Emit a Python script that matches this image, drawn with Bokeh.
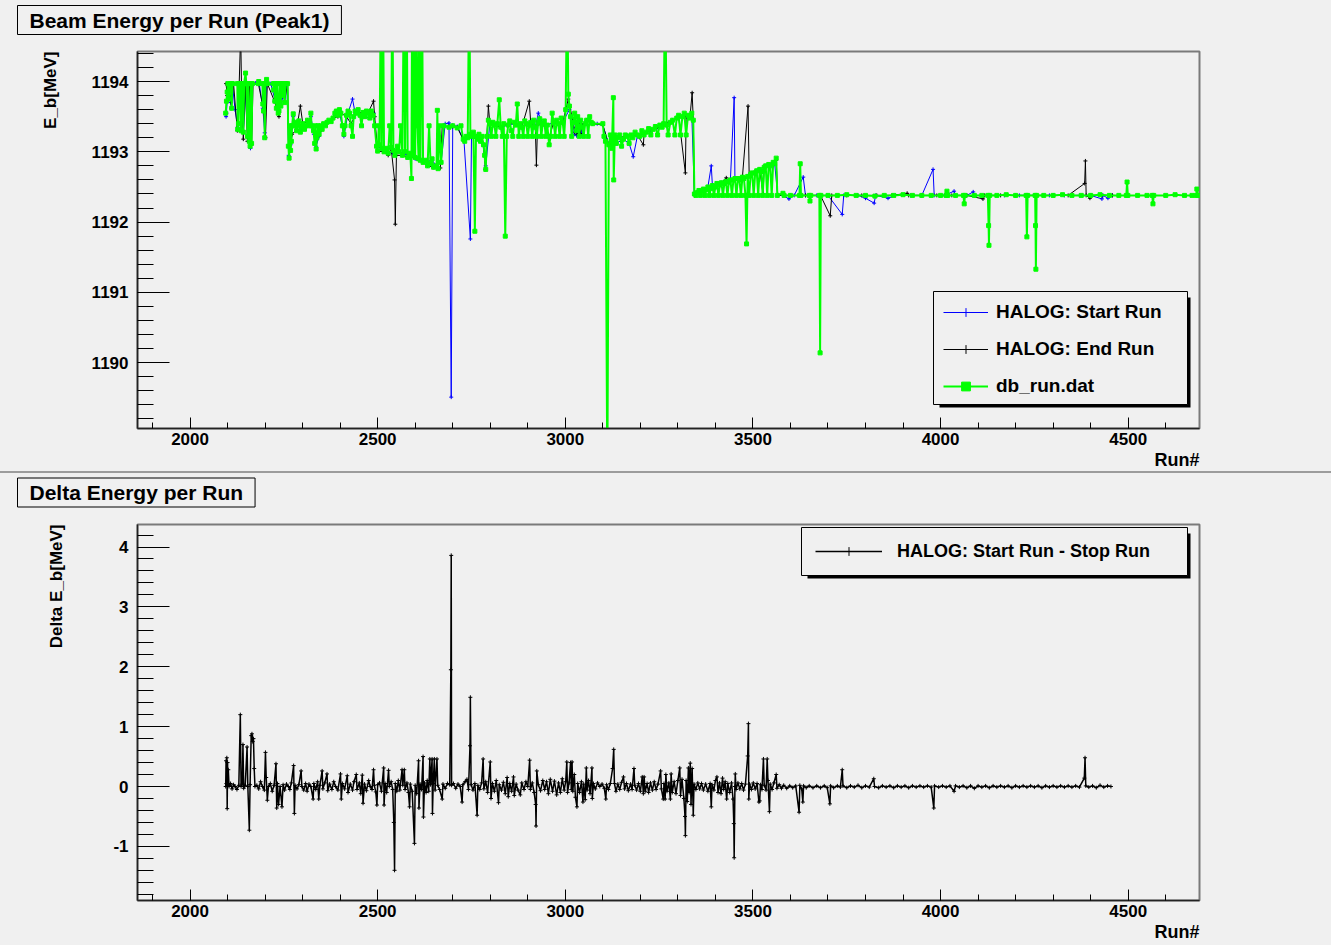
from bokeh.plotting import figure
from bokeh.models import (Range1d, SingleIntervalTicker, Legend, LegendItem,
                          BoxAnnotation, Title, PrintfTickFormatter, Div)
from bokeh.layouts import column
from bokeh.embed import file_html
from bokeh.resources import INLINE

# ---------------------------------------------------------------- data
# (run number, beam energy in MeV) for each source
HALOG_START = [
    (2096, 1193.50), (2097, 1193.55), (2099, 1193.72), (2103, 1193.85), (2108, 1193.70),
    (2113, 1193.95), (2120, 1193.60), (2127, 1193.35), (2134, 1193.95), (2142, 1193.30),
    (2150, 1193.95), (2155, 1193.20), (2161, 1193.05), (2166, 1193.95), (2175, 1193.98),
    (2185, 1193.95), (2194, 1193.62), (2199, 1193.27), (2204, 1193.95), (2215, 1193.97),
    (2226, 1193.75), (2235, 1193.58), (2242, 1193.65), (2250, 1193.85), (2258, 1193.95),
    (2263, 1192.95), (2268, 1193.10), (2275, 1193.50), (2284, 1193.32), (2294, 1193.30),
    (2305, 1193.35), (2315, 1193.42), (2322, 1193.50), (2330, 1193.25), (2336, 1193.08),
    (2344, 1193.22), (2356, 1193.38), (2370, 1193.43), (2386, 1193.52), (2398, 1193.58),
    (2410, 1193.22), (2421, 1193.55), (2433, 1193.75), (2440, 1193.55), (2453, 1193.52),
    (2466, 1193.50), (2479, 1193.48), (2490, 1193.55), (2497, 1193.08), (2510, 1193.05),
    (2524, 1193.00), (2540, 1192.98), (2557, 1193.00), (2573, 1192.97), (2587, 1192.95),
    (2600, 1192.90), (2614, 1192.88), (2629, 1192.86), (2645, 1192.88), (2657, 1192.80),
    (2669, 1192.85), (2680, 1193.40), (2690, 1193.41), (2696, 1189.51), (2700, 1193.38),
    (2712, 1193.36), (2730, 1193.16), (2747, 1191.76), (2750, 1193.20), (2766, 1193.18),
    (2782, 1193.08), (2788, 1192.80), (2799, 1193.40), (2811, 1193.38), (2828, 1193.35),
    (2848, 1193.38), (2864, 1193.40), (2884, 1193.35), (2896, 1193.40), (2908, 1193.42),
    (2920, 1193.35), (2928, 1193.55), (2940, 1193.40), (2952, 1193.38), (2969, 1193.42),
    (2981, 1193.40), (2993, 1193.42), (3011, 1193.60), (3021, 1193.40), (3024, 1193.25),
    (3027, 1193.40), (3030, 1193.23), (3033, 1193.42), (3036, 1193.25), (3040, 1193.40),
    (3044, 1193.23), (3048, 1193.38), (3057, 1193.45), (3069, 1193.42), (3085, 1193.40),
    (3100, 1193.38), (3116, 1193.10), (3136, 1193.12), (3155, 1193.18), (3170, 1193.12),
    (3181, 1192.93), (3192, 1193.22), (3210, 1193.26), (3228, 1193.30), (3246, 1193.35),
    (3262, 1193.40), (3280, 1193.42), (3297, 1193.48), (3312, 1193.50), (3327, 1193.52),
    (3337, 1193.53), (3344, 1192.40), (3356, 1192.45), (3368, 1192.47), (3380, 1192.50),
    (3389, 1192.80), (3392, 1192.52), (3404, 1192.55), (3416, 1192.56), (3428, 1192.58),
    (3440, 1192.60), (3450, 1193.77), (3452, 1192.62), (3464, 1192.60), (3476, 1192.62),
    (3488, 1192.66), (3498, 1192.70), (3510, 1192.73), (3522, 1192.72), (3534, 1192.80),
    (3546, 1192.80), (3558, 1192.83), (3566, 1192.38), (3580, 1192.38), (3596, 1192.33),
    (3610, 1192.38), (3634, 1192.64), (3640, 1192.38), (3670, 1192.38), (3700, 1192.38),
    (3738, 1192.11), (3742, 1192.38), (3780, 1192.38), (3800, 1192.34), (3823, 1192.27),
    (3827, 1192.38), (3860, 1192.34), (3880, 1192.38), (3920, 1192.38), (3950, 1192.38),
    (3980, 1192.75), (3983, 1192.38), (4010, 1192.38), (4036, 1192.44), (4040, 1192.38),
    (4070, 1192.38), (4087, 1192.43), (4090, 1192.38), (4130, 1192.38), (4170, 1192.38),
    (4210, 1192.38), (4250, 1192.38), (4290, 1192.38), (4330, 1192.38), (4370, 1192.38),
    (4400, 1192.38), (4430, 1192.33), (4433, 1192.38), (4446, 1192.34), (4450, 1192.38),
    (4458, 1192.38),
]

HALOG_END = [
    (2096, 1193.97), (2099, 1193.80), (2104, 1193.95), (2110, 1193.62), (2116, 1193.97),
    (2126, 1193.30), (2131, 1193.97), (2135, 1194.70), (2137, 1193.97), (2142, 1193.18),
    (2147, 1193.97), (2153, 1193.15), (2158, 1193.97), (2164, 1193.10), (2168, 1193.97),
    (2182, 1193.97), (2196, 1193.60), (2201, 1193.20), (2206, 1193.97), (2225, 1193.72),
    (2237, 1193.50), (2244, 1193.95), (2252, 1193.72), (2260, 1193.97), (2264, 1192.93),
    (2272, 1193.25), (2284, 1193.32), (2294, 1193.65), (2301, 1193.38), (2313, 1193.45),
    (2329, 1193.30), (2338, 1193.18), (2352, 1193.32), (2365, 1193.42), (2381, 1193.48),
    (2394, 1193.50), (2402, 1193.55), (2417, 1193.50), (2429, 1193.40), (2444, 1193.55),
    (2461, 1193.56), (2474, 1193.55), (2489, 1193.72), (2492, 1193.50), (2500, 1193.01),
    (2517, 1193.00), (2528, 1192.95), (2536, 1193.05), (2545, 1192.60), (2547, 1191.97),
    (2550, 1192.95), (2566, 1192.95), (2580, 1192.92), (2595, 1192.93), (2609, 1192.88),
    (2621, 1192.85), (2633, 1192.80), (2649, 1192.78), (2667, 1192.77), (2672, 1193.37),
    (2690, 1193.36), (2700, 1193.36), (2712, 1193.35), (2730, 1193.15), (2751, 1193.22),
    (2770, 1193.25), (2782, 1193.10), (2787, 1192.75), (2791, 1193.22), (2795, 1193.65),
    (2799, 1193.40), (2811, 1193.38), (2828, 1193.35), (2852, 1193.42), (2868, 1193.38),
    (2884, 1193.35), (2904, 1193.72), (2908, 1193.40), (2920, 1193.35), (2923, 1192.81),
    (2926, 1193.38), (2940, 1193.40), (2957, 1193.20), (2969, 1193.42), (2981, 1193.40),
    (2993, 1193.42), (3008, 1193.75), (3021, 1193.42), (3025, 1193.28), (3029, 1193.42),
    (3032, 1193.25), (3036, 1193.40), (3040, 1193.26), (3045, 1193.38), (3057, 1193.45),
    (3073, 1193.40), (3100, 1193.38), (3116, 1193.10), (3140, 1193.20), (3160, 1193.22),
    (3192, 1193.24), (3208, 1193.10), (3210, 1193.25), (3226, 1193.32), (3246, 1193.35),
    (3262, 1193.40), (3286, 1193.45), (3302, 1193.50), (3320, 1192.70), (3322, 1193.50),
    (3332, 1193.48), (3338, 1193.84), (3341, 1193.45), (3344, 1192.38), (3352, 1192.42),
    (3364, 1192.44), (3376, 1192.46), (3388, 1192.48), (3400, 1192.50), (3412, 1192.53),
    (3429, 1192.63), (3436, 1192.57), (3448, 1192.60), (3460, 1192.62), (3472, 1192.64),
    (3487, 1193.65), (3490, 1192.66), (3506, 1192.70), (3518, 1192.75), (3527, 1192.40),
    (3530, 1192.78), (3542, 1192.82), (3554, 1192.85), (3562, 1192.88), (3566, 1192.38),
    (3600, 1192.38), (3640, 1192.38), (3680, 1192.38), (3706, 1192.09), (3710, 1192.38),
    (3750, 1192.38), (3790, 1192.38), (3830, 1192.38), (3870, 1192.38), (3911, 1192.41),
    (3915, 1192.38), (3950, 1192.38), (3990, 1192.38), (4030, 1192.38), (4070, 1192.38),
    (4113, 1192.33), (4117, 1192.38), (4160, 1192.38), (4200, 1192.38), (4250, 1192.38),
    (4300, 1192.38), (4340, 1192.38), (4384, 1192.55), (4386, 1192.87), (4388, 1192.38),
    (4398, 1192.34), (4402, 1192.38), (4430, 1192.38), (4458, 1192.38),
]

DB_RUN = [
    (2095, 1193.55), (2097, 1193.72), (2099, 1193.85), (2101, 1193.97), (2104, 1193.75),
    (2106, 1193.97), (2110, 1193.97), (2111, 1193.62), (2113, 1193.97), (2126, 1193.97),
    (2127, 1193.32), (2129, 1193.40), (2131, 1193.97), (2134, 1193.97), (2136, 1193.30),
    (2138, 1193.97), (2141, 1193.97), (2142, 1193.28), (2144, 1193.97), (2148, 1194.12),
    (2150, 1193.97), (2153, 1193.22), (2155, 1193.97), (2158, 1193.15), (2160, 1193.08),
    (2162, 1193.97), (2164, 1193.12), (2166, 1193.97), (2182, 1193.97), (2183, 1194.00),
    (2193, 1193.97), (2194, 1193.68), (2196, 1193.58), (2197, 1193.97), (2199, 1193.20),
    (2201, 1193.97), (2204, 1194.03), (2206, 1193.97), (2222, 1193.97), (2223, 1193.88),
    (2225, 1193.97), (2226, 1193.72), (2228, 1193.97), (2230, 1193.62), (2232, 1193.97),
    (2235, 1193.55), (2237, 1193.58), (2239, 1193.97), (2242, 1193.65), (2244, 1193.97),
    (2247, 1193.80), (2249, 1193.97), (2252, 1193.70), (2254, 1193.97), (2260, 1193.97),
    (2262, 1193.08), (2264, 1192.91), (2266, 1193.37), (2268, 1193.02), (2270, 1193.15),
    (2272, 1193.37), (2275, 1193.54), (2277, 1193.37), (2280, 1193.42), (2284, 1193.30),
    (2286, 1193.37), (2290, 1193.44), (2294, 1193.28), (2297, 1193.37), (2301, 1193.40),
    (2305, 1193.32), (2309, 1193.37), (2313, 1193.45), (2318, 1193.37), (2322, 1193.55),
    (2324, 1193.37), (2329, 1193.30), (2332, 1193.12), (2334, 1193.37), (2336, 1193.04),
    (2338, 1193.20), (2341, 1193.37), (2344, 1193.25), (2348, 1193.37), (2352, 1193.32),
    (2356, 1193.40), (2361, 1193.37), (2365, 1193.42), (2370, 1193.45), (2376, 1193.43),
    (2381, 1193.48), (2386, 1193.55), (2390, 1193.58), (2394, 1193.52), (2398, 1193.60),
    (2402, 1193.55), (2406, 1193.37), (2410, 1193.25), (2413, 1193.37), (2417, 1193.52),
    (2421, 1193.58), (2425, 1193.55), (2429, 1193.37), (2433, 1193.22), (2436, 1193.50),
    (2440, 1193.58), (2444, 1193.55), (2448, 1193.60), (2453, 1193.52), (2457, 1193.37),
    (2461, 1193.56), (2466, 1193.50), (2470, 1193.58), (2474, 1193.55), (2479, 1193.48),
    (2483, 1193.58), (2488, 1193.52), (2492, 1193.37), (2497, 1193.08), (2500, 1193.01),
    (2503, 1193.37), (2505, 1193.10), (2509, 1195.60), (2511, 1193.05), (2514, 1195.60),
    (2517, 1193.00), (2524, 1193.05), (2528, 1192.98), (2532, 1193.37),
    (2536, 1193.06), (2539, 1195.60), (2542, 1193.02), (2546, 1192.95),
    (2553, 1193.08), (2557, 1193.00), (2561, 1193.37), (2566, 1192.95), (2570, 1195.60),
    (2573, 1193.00), (2577, 1195.60), (2580, 1192.92), (2587, 1192.98),
    (2590, 1192.62), (2592, 1195.60), (2595, 1192.95), (2597, 1195.60), (2600, 1192.92),
    (2603, 1195.60), (2606, 1193.37), (2609, 1192.90), (2611, 1195.60), (2614, 1192.88),
    (2618, 1195.60), (2621, 1192.85), (2629, 1192.88), (2633, 1192.80),
    (2637, 1193.37), (2641, 1192.83), (2645, 1192.90), (2649, 1192.78),
    (2657, 1192.80), (2659, 1193.59), (2661, 1192.76), (2665, 1193.37), (2669, 1192.85),
    (2676, 1193.37), (2690, 1193.35), (2700, 1193.37), (2712, 1193.34), (2722, 1193.37),
    (2728, 1193.18), (2732, 1193.15), (2736, 1193.22), (2740, 1193.20), (2744, 1195.60),
    (2747, 1193.25), (2751, 1193.22), (2755, 1193.28), (2759, 1191.87), (2762, 1193.22),
    (2766, 1193.18), (2770, 1193.25), (2774, 1193.15), (2778, 1193.22), (2782, 1193.10),
    (2785, 1192.95), (2788, 1192.75), (2791, 1193.22), (2795, 1193.45), (2799, 1193.40),
    (2803, 1193.22), (2807, 1193.42), (2811, 1193.38), (2815, 1193.22), (2819, 1193.40),
    (2824, 1193.74), (2828, 1193.35), (2832, 1193.22), (2836, 1193.40), (2840, 1191.80),
    (2844, 1193.22), (2848, 1193.38), (2852, 1193.44), (2856, 1193.30), (2860, 1193.22),
    (2864, 1193.42), (2868, 1193.38), (2872, 1193.68), (2876, 1193.22), (2880, 1193.40),
    (2884, 1193.35), (2888, 1193.22), (2892, 1193.44), (2896, 1193.40), (2900, 1193.22),
    (2904, 1193.38), (2908, 1193.42), (2912, 1193.22), (2916, 1193.45), (2920, 1193.35),
    (2924, 1193.22), (2928, 1193.42), (2932, 1193.47), (2936, 1193.22), (2940, 1193.40),
    (2944, 1193.44), (2948, 1193.22), (2952, 1193.38), (2957, 1193.10), (2961, 1193.22),
    (2965, 1193.55), (2969, 1193.42), (2973, 1193.22), (2977, 1193.45), (2981, 1193.40),
    (2985, 1193.22), (2989, 1193.48), (2993, 1193.42), (2997, 1193.22), (3001, 1193.60),
    (3005, 1195.60), (3008, 1193.82), (3011, 1193.65), (3014, 1193.50), (3017, 1193.22),
    (3021, 1193.42), (3025, 1193.55), (3029, 1193.30), (3033, 1193.50), (3037, 1193.22),
    (3041, 1193.45), (3045, 1193.35), (3049, 1193.22), (3053, 1193.40), (3057, 1193.45),
    (3061, 1193.22), (3065, 1193.50), (3069, 1193.42), (3073, 1193.40), (3100, 1193.40),
    (3103, 1193.22), (3107, 1193.15), (3112, 1188.30), (3116, 1193.10), (3120, 1193.24),
    (3124, 1193.05), (3128, 1193.77), (3129, 1192.60), (3132, 1193.24), (3136, 1193.12),
    (3140, 1193.20), (3145, 1193.24), (3150, 1193.08), (3155, 1193.18), (3160, 1193.24),
    (3165, 1193.22), (3170, 1193.12), (3175, 1193.24), (3180, 1193.20), (3186, 1193.28),
    (3192, 1193.24), (3198, 1193.22), (3204, 1193.30), (3210, 1193.24), (3216, 1193.28),
    (3222, 1193.33), (3228, 1193.24), (3234, 1193.32), (3240, 1193.36), (3246, 1193.24),
    (3252, 1193.38), (3258, 1193.35), (3262, 1193.40), (3266, 1195.60), (3270, 1193.38),
    (3274, 1193.24), (3280, 1193.42), (3286, 1193.45), (3292, 1193.24), (3297, 1193.48),
    (3302, 1193.52), (3307, 1193.24), (3312, 1193.50), (3317, 1193.55), (3322, 1193.24),
    (3327, 1193.52), (3332, 1193.48), (3337, 1193.55), (3341, 1193.45), (3344, 1192.40),
    (3348, 1192.38), (3352, 1192.42), (3356, 1192.45), (3360, 1192.38), (3364, 1192.44),
    (3368, 1192.47), (3372, 1192.38), (3376, 1192.46), (3380, 1192.50), (3384, 1192.38),
    (3388, 1192.48), (3392, 1192.52), (3396, 1192.38), (3400, 1192.50), (3404, 1192.55),
    (3408, 1192.38), (3412, 1192.53), (3416, 1192.56), (3420, 1192.38), (3424, 1192.55),
    (3428, 1192.58), (3432, 1192.38), (3436, 1192.57), (3440, 1192.60), (3444, 1192.38),
    (3448, 1192.60), (3452, 1192.62), (3456, 1192.38), (3460, 1192.62), (3464, 1192.60),
    (3468, 1192.38), (3472, 1192.64), (3476, 1192.62), (3480, 1192.38), (3483, 1191.69),
    (3486, 1192.65), (3490, 1192.38), (3494, 1192.68), (3498, 1192.70), (3502, 1192.38),
    (3506, 1192.70), (3510, 1192.73), (3514, 1192.38), (3518, 1192.75), (3522, 1192.72),
    (3526, 1192.38), (3530, 1192.78), (3534, 1192.80), (3538, 1192.38), (3542, 1192.82),
    (3546, 1192.80), (3550, 1192.38), (3554, 1192.85), (3558, 1192.83), (3562, 1192.91),
    (3565, 1192.38), (3580, 1192.41), (3583, 1192.38), (3600, 1192.38), (3624, 1192.38),
    (3626, 1192.83), (3628, 1192.38), (3650, 1192.38), (3652, 1192.30), (3654, 1192.38),
    (3677, 1192.38), (3679, 1190.14), (3681, 1192.38), (3700, 1192.38), (3725, 1192.38),
    (3750, 1192.39), (3775, 1192.38), (3800, 1192.38), (3825, 1192.37), (3850, 1192.38),
    (3875, 1192.38), (3900, 1192.39), (3925, 1192.38), (3950, 1192.38), (3975, 1192.38),
    (4000, 1192.38), (4015, 1192.38), (4017, 1192.44), (4019, 1192.38), (4040, 1192.38),
    (4061, 1192.38), (4063, 1192.26), (4065, 1192.38), (4090, 1192.38), (4110, 1192.38),
    (4126, 1192.38), (4128, 1191.95), (4129, 1191.67), (4131, 1192.38), (4150, 1192.38),
    (4175, 1192.39), (4200, 1192.38), (4228, 1192.38), (4230, 1191.79), (4232, 1192.38),
    (4252, 1192.38), (4253, 1191.95), (4254, 1191.33), (4256, 1192.38), (4275, 1192.38),
    (4300, 1192.38), (4325, 1192.39), (4350, 1192.38), (4375, 1192.38), (4400, 1192.38),
    (4425, 1192.39), (4450, 1192.38), (4475, 1192.38), (4495, 1192.38), (4497, 1192.57),
    (4499, 1192.38), (4525, 1192.38), (4550, 1192.38), (4564, 1192.38), (4566, 1192.26),
    (4568, 1192.38), (4600, 1192.38), (4625, 1192.39), (4650, 1192.38), (4670, 1192.38),
    (4681, 1192.38), (4683, 1192.47), (4686, 1192.38), (4689, 1192.38),
]

# (run number, energy difference in MeV) between start and stop of each run
DELTA = [
    (2095, 0.00), (2096, 0.43), (2097, 0.05), (2098, 0.48), (2099, -0.37), (2100, 0.40),
    (2101, 0.02), (2102, 0.28), (2104, 0.00), (2108, 0.05), (2112, -0.04), (2116, 0.03),
    (2120, 0.00), (2125, -0.05), (2130, 0.02), (2134, 1.20), (2136, 0.00), (2139, 0.04),
    (2141, 0.70), (2143, -0.03), (2147, 0.02), (2152, 0.66), (2154, 0.00), (2158, -0.73),
    (2160, 0.03), (2163, 0.85), (2165, 0.88), (2167, 0.75), (2169, 0.80), (2171, 0.30),
    (2173, 0.00), (2178, 0.02), (2183, -0.04), (2188, 0.08), (2193, 0.00), (2198, -0.06),
    (2201, 0.57), (2203, 0.15), (2206, -0.23), (2209, 0.00), (2214, 0.05), (2219, -0.08),
    (2224, 0.02), (2229, 0.38), (2231, -0.36), (2233, 0.05), (2236, -0.30), (2240, 0.00),
    (2245, -0.34), (2248, 0.03), (2252, -0.06), (2257, 0.04), (2262, 0.00), (2266, -0.05),
    (2270, 0.06), (2276, 0.35), (2278, -0.45), (2280, 0.02), (2285, -0.04), (2290, 0.03),
    (2296, 0.26), (2298, 0.00), (2303, -0.06), (2308, 0.05), (2312, -0.08), (2317, 0.04),
    (2322, 0.00), (2328, -0.21), (2330, 0.05), (2335, -0.05), (2340, 0.08), (2343, -0.21),
    (2346, 0.02), (2352, 0.26), (2354, -0.04), (2359, 0.06), (2365, 0.21), (2367, -0.07),
    (2372, 0.04), (2378, -0.05), (2383, 0.08), (2388, 0.00), (2394, -0.06), (2401, 0.21),
    (2403, -0.21), (2406, 0.05), (2412, -0.04), (2419, 0.18), (2421, -0.10), (2427, 0.04),
    (2433, -0.06), (2437, 0.08), (2443, 0.20), (2445, -0.05), (2451, 0.06), (2455, -0.12),
    (2459, 0.19), (2461, -0.28), (2465, 0.04), (2470, -0.07), (2476, 0.10), (2480, 0.00),
    (2485, -0.05), (2489, 0.28), (2491, 0.02), (2495, -0.09), (2498, -0.31), (2500, 0.03),
    (2505, 0.06), (2510, -0.08), (2516, 0.31), (2517, -0.31), (2520, 0.05), (2524, -0.10),
    (2529, 0.27), (2531, 0.00), (2536, 0.08), (2540, -0.05), (2543, -0.60), (2545, -1.40),
    (2547, 0.05), (2551, -0.08), (2555, 0.10), (2559, -0.06), (2565, 0.28), (2567, 0.02),
    (2571, 0.28), (2573, -0.05), (2578, 0.06), (2582, -0.10), (2585, -0.34), (2587, 0.04),
    (2592, -0.08), (2598, -0.95), (2600, 0.02), (2604, -0.12), (2609, 0.43), (2610, -0.36),
    (2613, 0.04), (2617, -0.05), (2621, 0.50), (2622, -0.51), (2625, 0.06), (2629, -0.10),
    (2632, 0.10), (2636, -0.08), (2639, 0.46), (2641, 0.03), (2645, 0.46), (2646, -0.45),
    (2648, 0.05), (2651, 0.46), (2653, -0.06), (2658, 0.46), (2660, 0.02), (2665, -0.05),
    (2672, -0.21), (2674, 0.04), (2680, -0.03), (2686, 0.05), (2692, 0.03), (2695, 1.95),
    (2696, 3.86), (2697, 0.02), (2702, 0.05), (2708, -0.03), (2714, 0.04), (2720, 0.00),
    (2725, -0.26), (2727, 0.03), (2733, 0.08), (2738, 0.12), (2742, -0.05), (2746, 0.68),
    (2747, 1.49), (2749, 0.03), (2754, -0.06), (2759, 0.05), (2765, -0.48), (2767, 0.02),
    (2772, -0.05), (2777, 0.06), (2781, 0.46), (2783, -0.04), (2788, 0.08), (2793, -0.10),
    (2800, 0.41), (2802, -0.20), (2806, 0.05), (2811, -0.08), (2816, 0.10), (2822, -0.27),
    (2824, 0.03), (2830, -0.06), (2835, 0.07), (2840, -0.12), (2845, 0.15), (2848, -0.17),
    (2852, 0.05), (2857, -0.08), (2862, 0.16), (2864, -0.15), (2869, 0.04), (2874, -0.06),
    (2880, -0.14), (2884, 0.06), (2890, -0.05), (2895, 0.08), (2900, 0.00), (2905, 0.44),
    (2907, -0.05), (2912, 0.06), (2917, -0.10), (2921, -0.30), (2922, -0.66), (2924, 0.26),
    (2928, 0.03), (2934, -0.07), (2940, 0.10), (2945, -0.05), (2950, 0.08), (2955, -0.12),
    (2960, 0.12), (2966, -0.08), (2971, 0.09), (2977, -0.14), (2982, 0.06), (2987, -0.10),
    (2992, 0.13), (2997, -0.06), (3001, 0.08), (3004, 0.41), (3006, -0.10), (3010, 0.06),
    (3014, 0.40), (3016, -0.05), (3018, 0.41), (3020, -0.08), (3024, 0.20), (3027, -0.18),
    (3031, -0.34), (3033, 0.05), (3038, -0.10), (3043, 0.08), (3047, -0.26), (3049, 0.04),
    (3053, -0.22), (3056, 0.31), (3058, -0.06), (3062, 0.10), (3066, -0.12), (3071, 0.31),
    (3072, -0.20), (3075, 0.05), (3080, -0.04), (3086, 0.06), (3092, 0.00), (3098, 0.04),
    (3104, -0.03), (3108, -0.21), (3110, 0.03), (3115, -0.05), (3120, 0.05), (3126, 0.30),
    (3129, 0.62), (3131, 0.05), (3135, -0.08), (3140, 0.04), (3145, -0.05), (3150, 0.07),
    (3155, 0.16), (3158, -0.04), (3163, 0.05), (3168, -0.07), (3174, 0.04), (3178, -0.05),
    (3183, 0.30), (3185, 0.02), (3190, -0.06), (3195, 0.05), (3200, -0.08), (3205, 0.16),
    (3208, -0.12), (3210, 0.16), (3213, -0.08), (3218, 0.05), (3222, -0.10), (3227, 0.06),
    (3232, -0.06), (3237, 0.08), (3242, -0.05), (3247, 0.04), (3254, 0.26), (3256, -0.04),
    (3261, -0.21), (3263, 0.05), (3266, -0.21), (3268, 0.20), (3271, -0.08), (3276, 0.06),
    (3280, -0.21), (3282, 0.21), (3285, -0.10), (3290, 0.08), (3295, -0.12), (3300, 0.10),
    (3305, 0.31), (3307, -0.15), (3311, 0.12), (3316, -0.20), (3319, -0.50), (3320, -0.82),
    (3322, 0.10), (3325, -0.25), (3328, 0.31), (3330, -0.10), (3333, 0.39), (3335, -0.30),
    (3338, 0.30), (3341, -0.48), (3343, 0.04), (3348, -0.05), (3353, 0.06), (3358, -0.04),
    (3363, 0.05), (3368, -0.06), (3374, 0.04), (3380, -0.08), (3386, 0.05), (3389, -0.34),
    (3391, 0.03), (3396, -0.06), (3400, 0.10), (3404, 0.16), (3407, -0.10), (3411, 0.06),
    (3415, -0.12), (3419, 0.14), (3422, -0.05), (3426, 0.08), (3430, -0.21), (3433, 0.05),
    (3438, -0.10), (3443, 0.06), (3447, -0.21), (3449, -0.62), (3450, -1.19), (3452, 0.00),
    (3453, 0.21), (3455, -0.05), (3460, 0.06), (3465, -0.04), (3470, 0.05), (3475, -0.06),
    (3480, 0.04), (3486, 0.51), (3488, 1.05), (3489, -0.21), (3491, 0.04), (3496, -0.05),
    (3501, 0.06), (3506, -0.04), (3511, 0.05), (3516, -0.26), (3518, -0.24), (3520, 0.03),
    (3524, -0.05), (3528, 0.46), (3530, 0.02), (3535, -0.06), (3538, 0.46), (3540, 0.10),
    (3544, -0.42), (3546, 0.04), (3551, -0.05), (3556, 0.06), (3562, 0.20), (3564, -0.03),
    (3570, 0.03), (3576, -0.03), (3582, 0.02), (3590, -0.03), (3598, 0.01), (3606, -0.02),
    (3614, 0.01), (3623, -0.43), (3625, 0.02), (3630, -0.04), (3633, -0.26), (3635, 0.01),
    (3642, -0.02), (3650, 0.01), (3660, -0.02), (3670, 0.01), (3680, -0.02), (3690, 0.01),
    (3698, -0.02), (3705, -0.29), (3707, 0.01), (3715, -0.02), (3725, 0.01), (3733, -0.01),
    (3738, 0.28), (3740, 0.01), (3750, -0.02), (3760, 0.01), (3770, -0.01), (3780, 0.02),
    (3790, -0.02), (3800, 0.01), (3810, -0.01), (3822, 0.13), (3824, 0.00), (3835, -0.02),
    (3845, 0.01), (3855, -0.01), (3865, 0.01), (3875, -0.02), (3885, 0.01), (3895, -0.01),
    (3905, 0.01), (3915, -0.02), (3925, 0.01), (3935, -0.01), (3945, 0.01), (3955, -0.01),
    (3965, 0.01), (3975, -0.01), (3982, -0.36), (3984, 0.01), (3995, -0.01), (4005, 0.01),
    (4015, -0.01), (4025, 0.01), (4036, -0.08), (4040, 0.01), (4050, -0.01), (4060, 0.01),
    (4070, -0.02), (4080, 0.01), (4090, -0.03), (4100, 0.01), (4110, -0.01), (4120, 0.01),
    (4130, -0.02), (4140, 0.01), (4150, -0.01), (4160, 0.01), (4170, -0.01), (4180, 0.01),
    (4190, -0.02), (4200, 0.01), (4210, -0.01), (4220, 0.01), (4230, -0.01), (4240, 0.01),
    (4250, -0.01), (4260, 0.01), (4270, -0.02), (4280, 0.01), (4290, -0.01), (4300, 0.01),
    (4310, -0.01), (4320, 0.01), (4330, -0.01), (4340, 0.01), (4350, -0.01), (4360, 0.01),
    (4370, -0.01), (4383, 0.14), (4385, 0.48), (4387, 0.01), (4395, -0.01), (4405, 0.01),
    (4415, -0.02), (4425, 0.02), (4435, -0.01), (4445, 0.01), (4454, 0.00),
]

# ---------------------------------------------------------------- style
FONT = "Liberation Sans"
BG = "#f0f0f0"
W = 1331
RUN_RANGE = (1860, 4690)
LIFT = 15          # each pad is pulled up so its title box sits close to the pad edge


def unzip(points):
    return [p[0] for p in points], [p[1] for p in points]


def text_title(text, size, **kw):
    return Title(text=text, text_font=FONT, text_font_style="bold", text_font_size=size,
                 text_color="#000000", **kw)


def make_pad(height, y_lo, y_hi, bottom_border, title, title_standoff,
             ylabel, ylabel_standoff, **kw):
    p = figure(width=W, height=height + LIFT, output_backend="svg", toolbar_location=None,
               x_range=Range1d(*RUN_RANGE), y_range=Range1d(y_lo, y_hi),
               min_border_left=137, min_border_right=132,
               min_border_top=51 + LIFT, min_border_bottom=bottom_border,
               background_fill_color=BG, margin=(-LIFT, 0, 0, 0), **kw)
    p.grid.visible = False
    p.outline_line_color = "#7a7a7a"
    p.outline_line_width = 2

    p.xaxis.ticker = SingleIntervalTicker(interval=500, num_minor_ticks=5)
    p.yaxis.ticker = SingleIntervalTicker(interval=1, num_minor_ticks=5)
    for ax in (p.xaxis, p.yaxis):
        ax.formatter = PrintfTickFormatter(format="%d")
        ax.axis_line_color = "#222222"
        ax.axis_line_width = 1.5
        ax.major_tick_line_color = "#000000"
        ax.minor_tick_line_color = "#000000"
        ax.major_tick_out = 0
        ax.minor_tick_out = 0
        ax.major_label_text_font = FONT
        ax.major_label_text_font_style = "bold"
        ax.major_label_text_font_size = "17px"
        ax.major_label_text_color = "#000000"
    p.xaxis.major_tick_in = 11
    p.xaxis.minor_tick_in = 6
    p.xaxis.major_label_standoff = 4
    p.yaxis.major_tick_in = 32
    p.yaxis.minor_tick_in = 16
    p.yaxis.major_label_standoff = 9

    # boxed pad title in the top-left corner
    p.add_layout(text_title(title, "21px", align="left", offset=-120,
                            standoff=title_standoff, background_fill_color=BG,
                            border_line_color="#000000", border_line_width=1,
                            padding=(12, 3)), "above")
    # axis titles pushed to the far end of each axis
    p.add_layout(text_title(ylabel, "17px", align="right", standoff=ylabel_standoff), "left")
    p.add_layout(text_title("Run#", "18px", align="right", standoff=0), "below")
    return p


def screen_box(p, left, right, bottom, top, fill, line=None):
    """Rectangle placed in pixels relative to the frame's bottom-left corner."""
    box = BoxAnnotation(left=left, right=right, bottom=bottom, top=top,
                        left_units="screen", right_units="screen",
                        bottom_units="screen", top_units="screen",
                        fill_color=fill, fill_alpha=1.0,
                        line_color=line if line else fill,
                        line_alpha=1.0 if line else 0.0, line_width=1)
    p.add_layout(box)
    return box


def legend(items, location, glyph_width, standoff, size):
    return Legend(items=items, location=location, orientation="vertical",
                  padding=0, margin=0, spacing=15, glyph_width=glyph_width,
                  glyph_height=22, label_height=22, label_standoff=standoff,
                  label_text_font=FONT, label_text_font_style="bold",
                  label_text_font_size=size, label_text_color="#000000",
                  border_line_alpha=0, background_fill_alpha=0)


# ---------------------------------------------------------------- top pad
top = make_pad(471, 1189.064, 1194.427, 43, "Beam Energy per Run (Peak1)", 34,
               "E_b[MeV]", 58, border_fill_color=BG)

xs, ys = unzip(HALOG_START)
l_start = top.line(xs, ys, line_color="#0000ff", line_width=1)
m_start = top.scatter(xs, ys, marker="cross", size=4, line_color="#0000ff", line_width=1)

xe, ye = unzip(HALOG_END)
l_end = top.line(xe, ye, line_color="#000000", line_width=1)
m_end = top.scatter(xe, ye, marker="cross", size=4, line_color="#000000", line_width=1)

xd, yd = unzip(DB_RUN)
l_db = top.line(xd, yd, line_color="#00ff00", line_width=2)
m_db = top.scatter(xd, yd, marker="square", size=4, fill_color="#00ff00",
                   line_color="#00ff00")

# legend frame with its drop shadow
screen_box(top, 802, 1053, 21, 131, "#000000")
screen_box(top, 796, 1050, 24, 137, BG, "#000000")
top.add_layout(legend([
    LegendItem(label="HALOG: Start Run", renderers=[l_start, m_start]),
    LegendItem(label="HALOG: End Run", renderers=[l_end, m_end]),
    LegendItem(label="db_run.dat", renderers=[l_db, m_db]),
], (806, 31), 45, 8, "19px"))

# ---------------------------------------------------------------- bottom pad
# transparent border so the overlapped strip of the pad above stays visible
bot = make_pad(472, -1.904, 4.376, 45, "Delta Energy per Run", 35,
               "Delta E_b[MeV]", 89, border_fill_alpha=0)

xq, yq = unzip(DELTA)
l_delta = bot.line(xq, yq, line_color="#000000", line_width=1.5)
m_delta = bot.scatter(xq, yq, marker="cross", size=4, line_color="#000000", line_width=1)

screen_box(bot, 670, 1053, 322, 367, "#000000")
screen_box(bot, 664, 1050, 325, 373, BG, "#000000")
bot.add_layout(legend([
    LegendItem(label="HALOG: Start Run - Stop Run", renderers=[l_delta, m_delta]),
], (678, 338), 67, 15, "18px"))

# thin divider between the two pads
divider = Div(text="", width=W, height=2, margin=0,
              styles={"background-color": "#9c9c9c"})

layout = column(top, divider, bot, spacing=0, styles={"background-color": BG})
open("out.html", "w").write(file_html(layout, INLINE, title="Beam Energy per Run"))
